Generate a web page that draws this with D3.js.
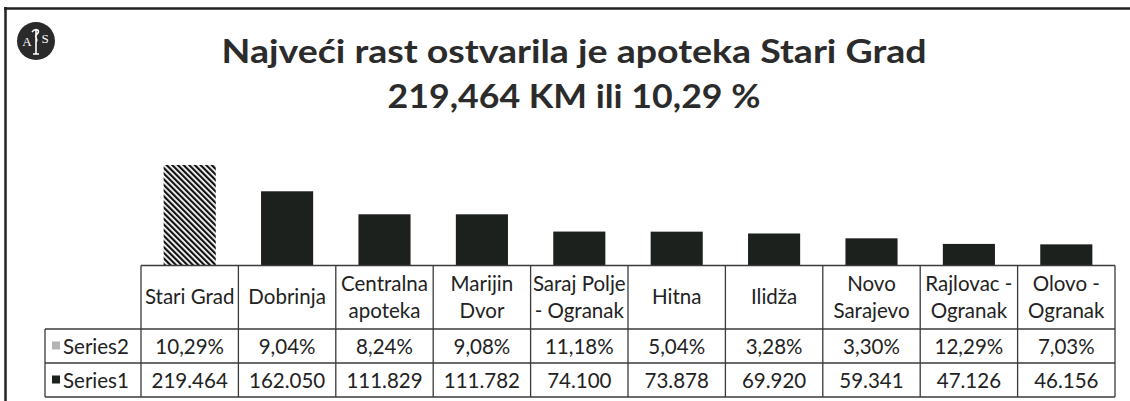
<!DOCTYPE html>
<html>
<head>
<meta charset="utf-8">
<script src="https://cdn.jsdelivr.net/npm/d3@7"></script>
<style>
  html, body { margin: 0; padding: 0; background: #fff; }
  svg { display: block; }
</style>
</head>
<body>
<svg id="chart" width="1130" height="401"></svg>
<script>
// ---- data ----
const categories = ["Stari Grad", "Dobrinja", "Centralna apoteka", "Marijin Dvor", "Saraj Polje - Ogranak", "Hitna", "Ilidža", "Novo Sarajevo", "Rajlovac - Ogranak", "Olovo - Ogranak"];
const categoryLines = [["Stari Grad"], ["Dobrinja"], ["Centralna", "apoteka"], ["Marijin", "Dvor"], ["Saraj Polje", "- Ogranak"], ["Hitna"], ["Ilidža"], ["Novo", "Sarajevo"], ["Rajlovac -", "Ogranak"], ["Olovo -", "Ogranak"]];
const series1 = [219464, 162050, 111829, 111782, 74100, 73878, 69920, 59341, 47126, 46156];
const series2 = [10.29, 9.04, 8.24, 9.08, 11.18, 5.04, 3.28, 3.30, 12.29, 7.03];
const seriesNames = ["Series2", "Series1"];
const titleLines = ["Najveći rast ostvarila je apoteka Stari Grad", "219,464 KM ili 10,29 %"];
const highlighted = "Stari Grad";
const yTicks = [0, 250000];

// ---- setup ----
const svg = d3.select("#chart");
const W = 1130, H = 401;
const font = "Lato, 'Open Sans', sans-serif";
const barColor = "#1c211d";
const textColor = "#222";
const gridColor = "#3a3a3a";

const loc = d3.formatLocale({decimal: ",", thousands: ".", grouping: [3], currency: ["", ""]});
const fmt1 = loc.format(",d");
const fmt2 = v => loc.format(",.2f")(v) + "%";

const tableLeft = 141, tableRight = 1115;
const rowHeaderLeft = 45;
const yCatTop = 265.5, ySer2Top = 329, ySer1Top = 363, yBottom = 397;

const xCell = d3.scaleBand().domain(categories).range([tableLeft, tableRight]).padding(0);
const xBar = d3.scaleBand().domain(categories).range([tableLeft, tableRight]).paddingInner(0.465).paddingOuter(0.2325);
const y = d3.scaleLinear().domain([yTicks[0], yTicks[1]]).range([yCatTop, 151]);

// pattern
const defs = svg.append("defs");
const pat = defs.append("pattern").attr("id", "hatch").attr("patternUnits", "userSpaceOnUse")
  .attr("width", 4).attr("height", 4).attr("patternTransform", "rotate(-45)");
pat.append("rect").attr("width", 4).attr("height", 4).attr("fill", "#fff");
pat.append("rect").attr("width", 2.2).attr("height", 4).attr("fill", "#111");

svg.append("rect").attr("width", W).attr("height", H).attr("fill", "#fff");

// frame lines
svg.append("line").attr("x1", 4).attr("x2", W).attr("y1", 8.5).attr("y2", 8.5).attr("stroke", "#222").attr("stroke-width", 2.5);
svg.append("line").attr("x1", 5.5).attr("x2", 5.5).attr("y1", 7).attr("y2", H).attr("stroke", "#222").attr("stroke-width", 2.5);

// logo
const logo = svg.append("g").attr("transform", "translate(36,41)");
logo.append("circle").attr("r", 19).attr("fill", "#2a2a2a");
logo.append("text").attr("x", -9).attr("y", 5).attr("text-anchor", "middle").attr("font-family", "'Liberation Serif', serif").attr("font-size", 13).attr("fill", "#fff").text("A");
logo.append("text").attr("x", 9).attr("y", 2).attr("text-anchor", "middle").attr("font-family", "'Liberation Serif', serif").attr("font-size", 13).attr("fill", "#fff").text("S");
logo.append("path").attr("d", "M0,-11 L0,13 M-3,13 L3,13 M-4,-9 C0,-14 5,-10 1,-7 C-3,-4 3,-2 0,1").attr("stroke", "#fff").attr("stroke-width", 1.6).attr("fill", "none");

// title
svg.selectAll("text.title").data(titleLines).join("text")
  .attr("class", "title")
  .attr("x", 574)
  .attr("y", (d, i) => i === 0 ? 62.5 : 108)
  .attr("text-anchor", "middle")
  .attr("font-family", font).attr("font-weight", 700).attr("font-size", 33)
  .attr("fill", "#2b2b2b")
  .attr("textLength", (d, i) => i === 0 ? 705 : 373)
  .attr("lengthAdjust", "spacingAndGlyphs")
  .text(d => d);

// bars
svg.append("g").selectAll("rect").data(categories).join("rect")
  .attr("x", d => xBar(d))
  .attr("width", xBar.bandwidth())
  .attr("y", (d, i) => y(series1[i]))
  .attr("height", (d, i) => y(0) - y(series1[i]))
  .attr("fill", d => d === highlighted ? "url(#hatch)" : barColor);

// table grid
const grid = svg.append("g").attr("stroke", gridColor).attr("stroke-width", 1.3).attr("fill", "none");
grid.append("line").attr("x1", tableLeft).attr("x2", tableRight).attr("y1", yCatTop).attr("y2", yCatTop);
[ySer2Top, ySer1Top, yBottom].forEach(yy => grid.append("line").attr("x1", rowHeaderLeft).attr("x2", tableRight).attr("y1", yy).attr("y2", yy));
grid.append("line").attr("x1", rowHeaderLeft).attr("x2", rowHeaderLeft).attr("y1", ySer2Top).attr("y2", yBottom);
categories.forEach(c => grid.append("line").attr("x1", xCell(c)).attr("x2", xCell(c)).attr("y1", yCatTop).attr("y2", yBottom));
grid.append("line").attr("x1", tableRight).attr("x2", tableRight).attr("y1", yCatTop).attr("y2", yBottom);

// category labels
const catCenter = (yCatTop + ySer2Top) / 2;
const catG = svg.append("g").attr("font-family", font).attr("font-size", 20.5).attr("fill", textColor).attr("text-anchor", "middle");
categories.forEach((c, i) => {
  const lines = categoryLines[i];
  lines.forEach((ln, j) => {
    catG.append("text")
      .attr("x", xCell(c) + xCell.bandwidth() / 2)
      .attr("y", catCenter + 7 + (j - (lines.length - 1) / 2) * 27.5)
      .text(ln);
  });
});

// value rows
const rows = [
  {name: seriesNames[0], top: ySer2Top, vals: series2.map(fmt2), key: "#b4b4b4"},
  {name: seriesNames[1], top: ySer1Top, vals: series1.map(fmt1), key: barColor}
];
rows.forEach(r => {
  const cy = r.top + (ySer1Top - ySer2Top) / 2;
  const g = svg.append("g").attr("font-family", font).attr("font-size", 20.5).attr("fill", textColor);
  g.append("rect").attr("x", 52).attr("y", cy - 4.5).attr("width", 8).attr("height", 8).attr("fill", r.key);
  g.append("text").attr("x", 63).attr("y", cy + 7.5).text(r.name);
  g.selectAll("text.v").data(categories).join("text").attr("class", "v")
    .attr("x", d => xCell(d) + xCell.bandwidth() / 2)
    .attr("y", cy + 7.5)
    .attr("text-anchor", "middle")
    .text((d, i) => r.vals[i]);
});
</script>
</body>
</html>
